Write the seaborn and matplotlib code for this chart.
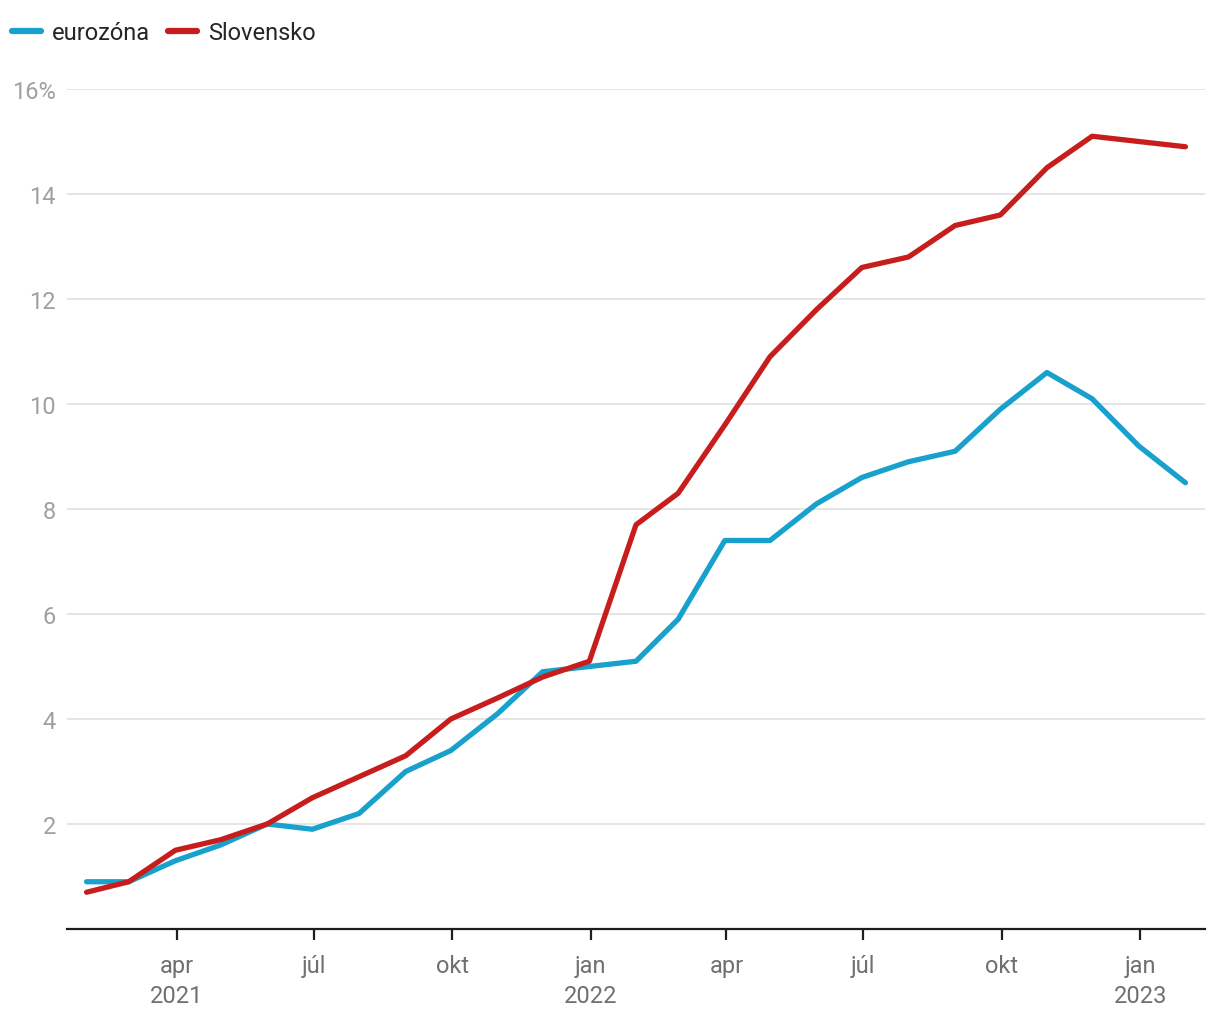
import pandas as pd
import matplotlib.pyplot as plt
import seaborn as sns

# Données : inflation annuelle (%) eurozóna vs Slovensko
mesiace = pd.date_range('2021-01-31', periods=25, freq='ME')
eurozona = [0.9, 0.9, 1.3, 1.6, 2.0, 1.9, 2.2, 3.0, 3.4, 4.1, 4.9, 5.0, 5.1,
            5.9, 7.4, 7.4, 8.1, 8.6, 8.9, 9.1, 9.9, 10.6, 10.1, 9.2, 8.5]
slovensko = [0.7, 0.9, 1.5, 1.7, 2.0, 2.5, 2.9, 3.3, 4.0, 4.4, 4.8, 5.1, 7.7,
             8.3, 9.6, 10.9, 11.8, 12.6, 12.8, 13.4, 13.6, 14.5, 15.1, 15.0, 14.9]
y_ticks = [2, 4, 6, 8, 10, 12, 14, 16]
x_ticks = pd.to_datetime(['2021-04-01', '2021-07-01', '2021-10-01', '2022-01-01',
                          '2022-04-01', '2022-07-01', '2022-10-01', '2023-01-01'])
x_labels = ['apr\n2021', 'júl', 'okt', 'jan\n2022', 'apr', 'júl', 'okt', 'jan\n2023']

df = pd.DataFrame({'datum': list(mesiace) * 2,
                   'hodnota': eurozona + slovensko,
                   'seria': ['eurozóna'] * 25 + ['Slovensko'] * 25})

sns.set_style('white')
plt.rcParams['font.family'] = ['Roboto', 'DejaVu Sans']

fig = plt.figure(figsize=(12.2, 10.2), dpi=100)
ax = fig.add_axes([67 / 1220, 1 - 930 / 1020, (1205 - 67) / 1220, (930 - 90) / 1020])

farby = {'eurozóna': '#18a1cd', 'Slovensko': '#c71e1d'}
sns.lineplot(data=df, x='datum', y='hodnota', hue='seria', palette=farby,
             linewidth=3.8, ax=ax, legend=False, solid_capstyle='round')

ax.set_ylim(0, 16)
ax.set_xlim(pd.Timestamp('2021-01-18'), pd.Timestamp('2023-02-13'))
ax.set_yticks(y_ticks)
ax.set_yticklabels([str(v) if v != 16 else '16%' for v in y_ticks])
ax.grid(axis='y', color='#e3e3e3', linewidth=1.3)
ax.set_axisbelow(True)
ax.tick_params(axis='y', left=False, length=0, pad=8, labelsize=17, labelcolor='#a0a0a0')

ax.set_xticks(x_ticks)
ax.set_xticklabels(x_labels, linespacing=1.4)
ax.tick_params(axis='x', bottom=True, direction='out', length=8, width=1.6,
               color='#1d1d1d', pad=10, labelsize=17, labelcolor='#707070')

for s in ['top', 'right', 'left']:
    ax.spines[s].set_visible(False)
ax.spines['bottom'].set_color('#1d1d1d')
ax.spines['bottom'].set_linewidth(1.6)
ax.set_xlabel('')
ax.set_ylabel('')

# Légende en haut à gauche
handles = [plt.Line2D([], [], color=farby[k], linewidth=4.5, solid_capstyle='round') for k in farby]
fig.legend(handles, list(farby), loc='upper left', bbox_to_anchor=(0.0, 0.99), ncol=2,
           frameon=False, fontsize=17, handlelength=1.25, handletextpad=0.45,
           columnspacing=0.75, borderaxespad=0.2, borderpad=0.3)

fig.savefig('out.png', dpi=100)
